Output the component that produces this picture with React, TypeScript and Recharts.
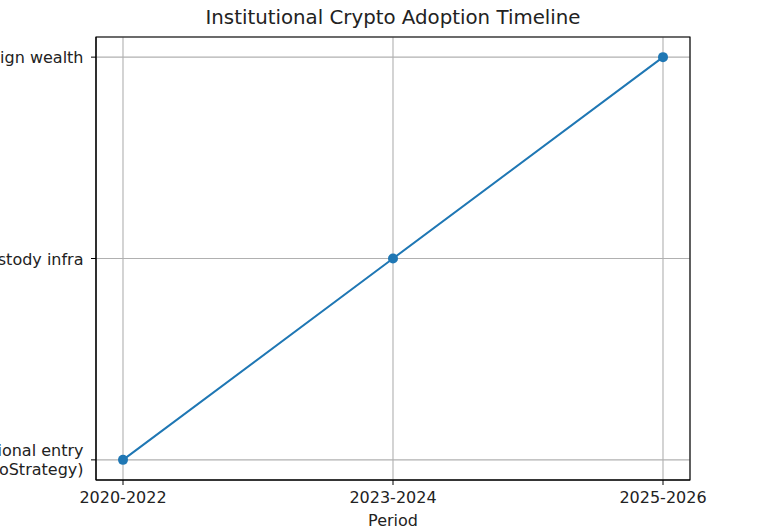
import React from 'react';
import { LineChart, Line, XAxis, YAxis, CartesianGrid, ReferenceArea } from 'recharts';

const periods = ['2020-2022', '2023-2024', '2025-2026'];
const stages = ['Institutional entry\n(MicroStrategy)', 'Custody infra', 'Sovereign wealth'];
const stageOfPeriod = [0, 1, 2];

const data = periods.map((p, i) => ({ x: i, y: stageOfPeriod[i], period: p }));

const FONT = "'DejaVu Sans', sans-serif";
const BLUE = '#1f77b4';
const TICK_FS = 16;

const YTick = (props: any) => {
  const { x, y, payload } = props;
  const lines = stages[payload.value].split('\n');
  const lh = 19;
  const start = y - ((lines.length - 1) * lh) / 2;
  const tx = x - 2.5;
  return (
    <text x={tx} y={start} textAnchor="end" fontFamily={FONT} fontSize={TICK_FS} fill="#222" dominantBaseline="central">
      {lines.map((l, i) => (
        <tspan key={i} x={tx} y={start + i * lh} dominantBaseline="central">{l}</tspan>
      ))}
    </text>
  );
};

const XTick = (props: any) => {
  const { x, y, payload } = props;
  return (
    <text x={x} y={y + 16} textAnchor="middle" fontFamily={FONT} fontSize={TICK_FS} fill="#222">
      {periods[payload.value]}
    </text>
  );
};

export default function App() {
  return (
    <div style={{ position: 'absolute', left: 0, top: 0, width: 768, height: 532, background: '#fff', overflow: 'hidden' }}>
      <div style={{ position: 'absolute', left: 393, top: 6, transform: 'translateX(-50%)', whiteSpace: 'nowrap', fontFamily: FONT, fontSize: 19.8, color: '#222' }}>
        Institutional Crypto Adoption Timeline
      </div>
      <LineChart width={768} height={532} data={data} margin={{ top: 37, right: 78, bottom: 0, left: 0 }}>
        <CartesianGrid stroke="#b0b0b0" strokeWidth={1.1} />
        <XAxis
          dataKey="x"
          type="number"
          domain={[-0.1, 2.1]}
          ticks={[0, 1, 2]}
          tick={<XTick />}
          tickSize={5}
          tickLine={{ stroke: '#000' }}
          axisLine={{ stroke: '#000' }}
          height={52}
          allowDataOverflow
        />
        <YAxis
          dataKey="y"
          type="number"
          domain={[-0.1, 2.1]}
          ticks={[0, 1, 2]}
          tick={<YTick />}
          tickSize={5}
          tickMargin={5}
          tickLine={{ stroke: '#000' }}
          axisLine={{ stroke: '#000' }}
          width={96}
          allowDataOverflow
        />
        <ReferenceArea x1={-0.1} x2={2.1} y1={-0.1} y2={2.1} fill="none" stroke="#000" strokeWidth={1.1} fillOpacity={0} />
        <Line
          dataKey="y"
          stroke={BLUE}
          strokeWidth={2}
          dot={{ r: 5, fill: BLUE, stroke: BLUE, strokeWidth: 0 }}
          isAnimationActive={false}
        />
      </LineChart>
      <div style={{ position: 'absolute', left: 393, top: 511, transform: 'translateX(-50%)', whiteSpace: 'nowrap', fontFamily: FONT, fontSize: TICK_FS, lineHeight: '19px', color: '#222' }}>
        Period
      </div>
    </div>
  );
}
